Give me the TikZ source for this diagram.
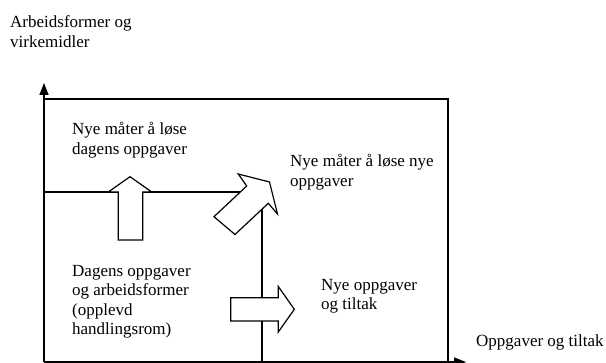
\documentclass[tikz,border=0pt]{standalone}
\usepackage{fontspec}
\setmainfont{Liberation Serif}
\usetikzlibrary{arrows.meta}
\begin{document}
\begin{tikzpicture}[x=1pt,y=-1pt,
  lbl/.style={anchor=base west,inner sep=0pt,align=left,font=\fontsize{17}{19.5}\selectfont},
  ln/.style={line width=1.3pt},
  blk/.style={draw=black,fill=white,line width=1.2pt,line join=miter},
  axis/.style={line width=1.4pt,-{Triangle[length=12pt,width=9pt]}}]
\useasboundingbox (0,0) rectangle (606,363);
% frame coordinates
\coordinate (O) at (44,362);
\coordinate (Ytip) at (44,83);
\coordinate (Xtip) at (466,362);
\coordinate (TL) at (44,99);
\coordinate (TR) at (448,99);
\coordinate (BR) at (448,362);
\coordinate (ML) at (44,192);
\coordinate (MM) at (250,192);
\coordinate (VB) at (262,362);
\coordinate (VT) at (262,200);
% frame lines
\draw[ln] (TL) -- (TR) -- (BR);
\draw[ln] (ML) -- (MM);
\draw[ln] (VB) -- (VT);
% up block arrow
\draw[blk] (118.3,240) -- (118.3,192) -- (108.3,192) -- (130,176.7) -- (151.7,192)
  -- (142.7,192) -- (142.7,240) -- cycle;
% diagonal block arrow
\draw[blk] (238.3,174) -- (269.5,182) -- (277.5,214) -- (268.3,203.3) -- (235,234.5)
  -- (214,216.7) -- (246.7,186) -- cycle;
% right block arrow
\draw[blk] (230.7,297.7) -- (278.3,297.7) -- (278.3,286.5) -- (294.3,309.3)
  -- (278.3,332) -- (278.3,321) -- (230.7,321) -- cycle;
% axes
\draw[axis] (O) -- (Ytip);
\draw[axis] (O) -- (Xtip);
% labels (base anchor = baseline of last line)
\node[lbl] (ylab) at (10,47.5) {Arbeidsformer og\\virkemidler};
\node[lbl] (t1) at (72,154.5) {Nye måter å løse\\dagens oppgaver};
\node[lbl] (t2) at (290,186.5) {Nye måter å løse nye\\oppgaver};
\node[lbl] (t3) at (72,335) {Dagens oppgaver\\og arbeidsformer\\(opplevd\\handlingsrom)};
\node[lbl] (t4) at (321,310) {Nye oppgaver\\og tiltak};
\node[lbl] (xlab) at (476,346.5) {Oppgaver og tiltak};
\end{tikzpicture}
\end{document}
